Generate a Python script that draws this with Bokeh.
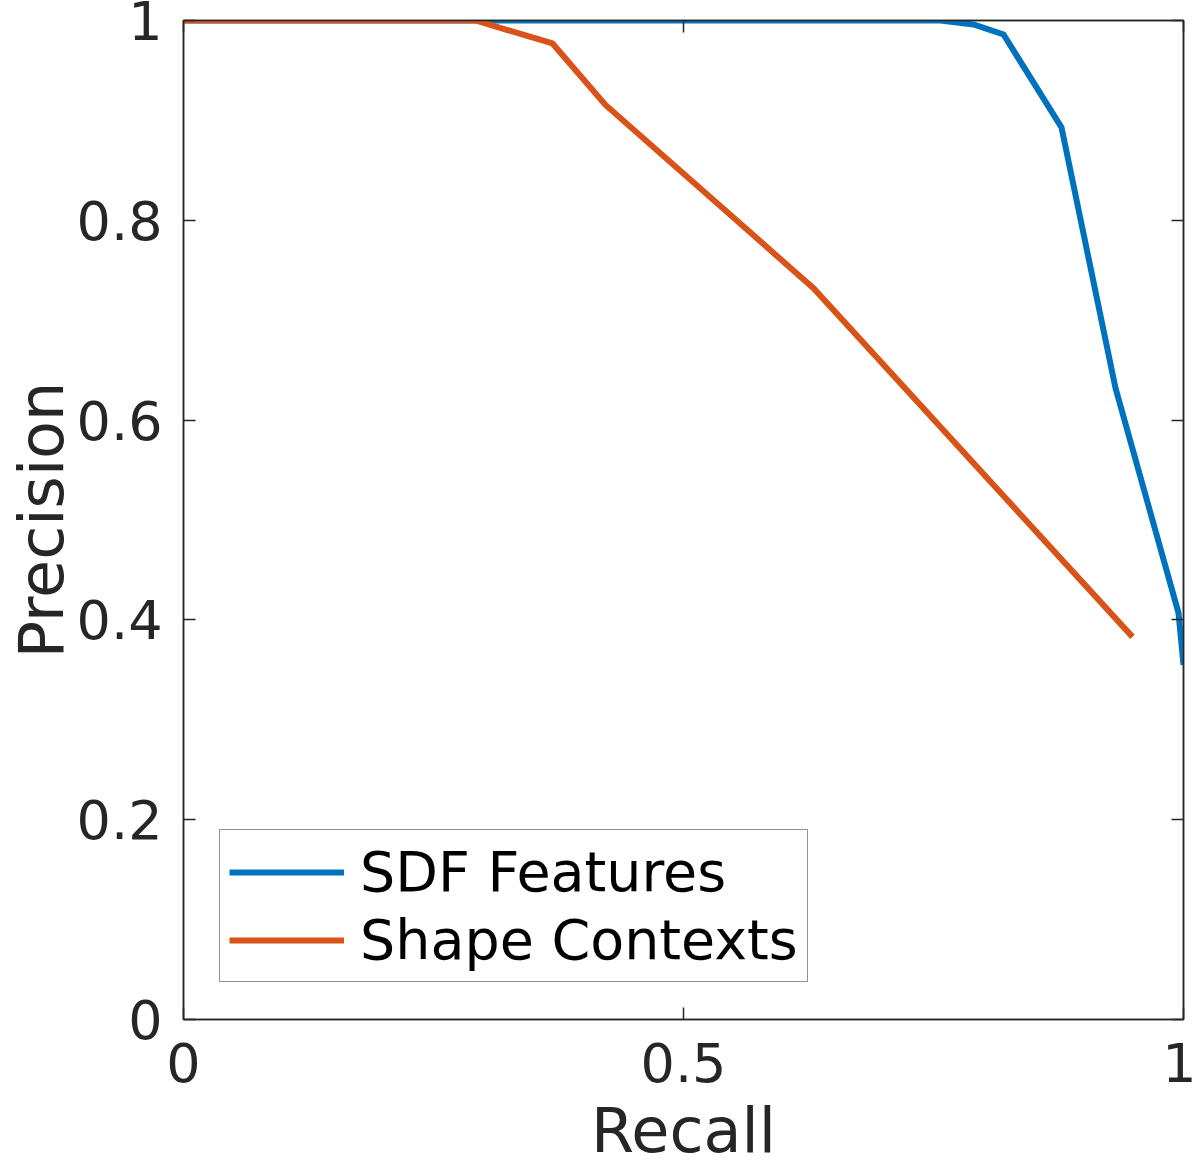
from bokeh.plotting import figure
from bokeh.models import Legend, LegendItem, LinearAxis, FixedTicker, Range1d
from bokeh.embed import file_html
from bokeh.resources import INLINE

# Data
sdf_recall = [0.0, 0.757, 0.79, 0.82, 0.878, 0.932, 0.995, 1.0]
sdf_precision = [1.0, 1.0, 0.996, 0.986, 0.893, 0.632, 0.407, 0.355]

sc_recall = [0.0, 0.292, 0.369, 0.422, 0.63, 0.949]
sc_precision = [1.0, 1.0, 0.977, 0.9155, 0.732, 0.383]

x_ticks = [0, 0.5, 1]
x_tick_labels = ["0", "0.5", "1"]
y_ticks = [0, 0.2, 0.4, 0.6, 0.8, 1]
y_tick_labels = ["0", "0.2", "0.4", "0.6", "0.8", "1"]

series_names = ["SDF Features", "Shape Contexts"]
x_title = "Recall"
y_title = "Precision"

BLUE = "#0072BD"
ORANGE = "#D95319"
INK = "#262626"
FONT = "DejaVu Sans"

p = figure(width=1196, height=1169,
           x_range=Range1d(0, 1), y_range=Range1d(0, 1),
           output_backend="svg", toolbar_location=None,
           min_border_left=183, min_border_right=13,
           min_border_top=20, min_border_bottom=150)

p.grid.visible = False
p.background_fill_color = "white"
p.border_fill_color = "white"
p.outline_line_color = INK
p.outline_line_width = 1.5
p.outline_line_alpha = 1.0

r1 = p.line(sdf_recall, sdf_precision, line_color=BLUE, line_width=6, line_join="miter")
r2 = p.line(sc_recall, sc_precision, line_color=ORANGE, line_width=6, line_join="miter")

def style_axis(ax, ticks, labels, show_labels=True):
    ax.ticker = FixedTicker(ticks=ticks)
    ax.major_label_overrides = {t: l for t, l in zip(ticks, labels)}
    ax.axis_line_color = INK
    ax.axis_line_width = 1.5
    ax.major_tick_line_color = INK
    ax.major_tick_line_width = 1.5
    ax.major_tick_in = 12
    ax.major_tick_out = 0
    ax.minor_tick_line_color = None
    ax.major_label_text_font = FONT
    ax.major_label_text_color = INK
    if show_labels:
        ax.major_label_text_font_size = "54px"
    else:
        ax.major_label_text_font_size = "1px"
        ax.major_label_text_alpha = 0
        ax.major_label_standoff = 0

xa = p.xaxis[0]
ya = p.yaxis[0]
style_axis(xa, x_ticks, x_tick_labels)
style_axis(ya, y_ticks, y_tick_labels)
xa.major_label_standoff = 23
ya.major_label_standoff = 21

xa.axis_label = x_title
ya.axis_label = y_title
for ax in (xa, ya):
    ax.axis_label_text_font = FONT
    ax.axis_label_text_font_size = "62px"
    ax.axis_label_text_font_style = "normal"
    ax.axis_label_text_color = INK
xa.axis_label_standoff = 9
ya.axis_label_standoff = -4

top_axis = LinearAxis()
right_axis = LinearAxis()
style_axis(top_axis, x_ticks, x_tick_labels, show_labels=False)
style_axis(right_axis, y_ticks, y_tick_labels, show_labels=False)
p.add_layout(top_axis, "above")
p.add_layout(right_axis, "right")

legend = Legend(items=[LegendItem(label=series_names[0], renderers=[r1]),
                       LegendItem(label=series_names[1], renderers=[r2])],
                location=(36, 37))
legend.label_text_font = FONT
legend.label_text_font_size = "55.5px"
legend.label_text_color = "black"
legend.glyph_width = 115
legend.glyph_height = 60
legend.label_height = 60
legend.padding = 9
legend.spacing = 3
legend.label_standoff = 16
legend.border_line_color = INK
legend.border_line_width = 1.5
legend.background_fill_color = "white"
legend.background_fill_alpha = 1.0
legend.margin = 0
p.add_layout(legend)

open("out.html", "w").write(file_html(p, INLINE))
